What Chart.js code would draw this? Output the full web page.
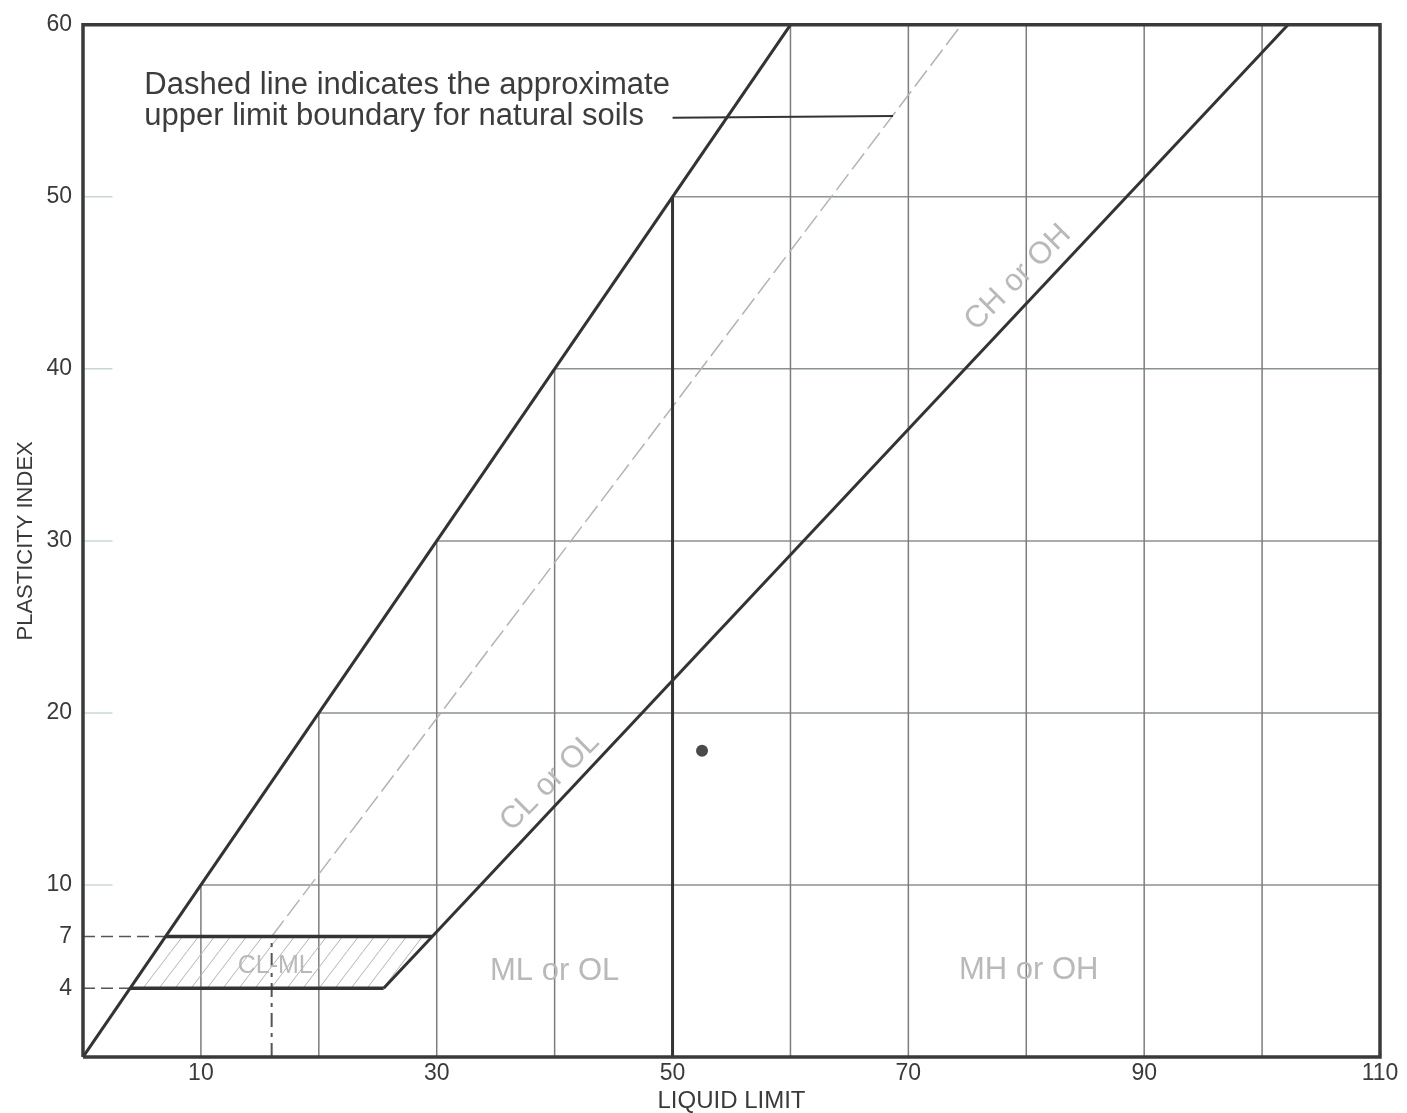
<!DOCTYPE html>
<html><head><meta charset="utf-8">
<script src="https://cdn.jsdelivr.net/npm/chart.js@4.4.1/dist/chart.umd.min.js"></script>
<style>html,body{margin:0;padding:0;background:#fff;}#wrap{width:1407px;height:1113px;}</style>
</head><body><div id="wrap"><canvas id="c" width="1407" height="1113"></canvas></div>
<script>
// ---------- data ----------
const xTickValues = [10, 30, 50, 70, 90, 110];
const yTickValues = [4, 7, 10, 20, 30, 40, 50, 60];
const xAxisTitle = 'LIQUID LIMIT';
const yAxisTitle = 'PLASTICITY INDEX';

const frameLine      = [[0,0],[110,0],[110,60],[0,60],[0,0]];
const upperLimitLine = [[0,0],[60,60]];          // PI = LL
const aLine          = [[25.5,4],[102.2,60]];    // CL/ML boundary
const clmlTop        = [[7,7],[29.6,7]];
const clmlBottom     = [[4,4],[25.5,4]];
const clmlZone       = [[4,4],[25.5,4],[29.6,7],[7,7],[4,4]];
const ll50Line       = [[50,0],[50,50]];
const uLineVertical  = [[16,0],[16,7]];
const uLineDiagonal  = [[16,7],[74.5,60]];
const dash7          = [[0,7],[7,7]];
const dash4          = [[0,4],[4,4]];
const leaderLine     = [[50,54.6],[68.7,54.7]];
const gridVX    = [10, 20, 30, 40, 60, 70, 80, 90, 100];
const gridVTop  = [10, 20, 30, 40, 60, 60, 60, 60, 60];
const gridHY    = [10, 20, 30, 40, 50];
const gridHFrom = [10, 20, 30, 40, 50];
const leftTickY = [10, 20, 30, 40, 50];
const samplePoint = [[52.5, 17.8]];

const regionText = ['ML or OL', 'MH or OH', 'CL-ML', 'CL or OL', 'CH or OH'];
const noteLines  = ['Dashed line indicates the approximate', 'upper limit boundary for natural soils'];

// ---------- placement / style (kept apart from the data) ----------
const FONT = "'Liberation Sans', Arial, sans-serif";
const regionPos = [
  {x:40.0, y:4.95, rot:0,   size:31},
  {x:80.2, y:5.05, rot:0,   size:31},
  {x:16.3, y:5.3,  rot:0,   size:25},
  {x:39.6, y:16.0, rot:-45, size:31},
  {x:79.3, y:45.3, rot:-45, size:31}
];
const notePos = [{x:5.2, y:56.0}, {x:5.2, y:54.2}];

const pts = a => a.map(p => ({x:p[0], y:p[1]}));

function hatchPattern(){
  const w = 16, h = 21;
  const c = document.createElement('canvas'); c.width = w; c.height = h;
  const g = c.getContext('2d');
  g.strokeStyle = '#b4b4b4'; g.lineWidth = 1;
  g.beginPath();
  g.moveTo(0,h); g.lineTo(w,0);
  g.moveTo(-w,h); g.lineTo(0,0);
  g.moveTo(w,h); g.lineTo(2*w,0);
  g.stroke();
  return g.createPattern(c, 'repeat');
}

const LINE = (data, color, width, order, extra) => Object.assign({
  type:'line', data: pts(data), showLine:true, borderColor:color, borderWidth:width,
  pointRadius:0, fill:false, tension:0, order:order
}, extra || {});

const datasets = [];
// grid
gridVX.forEach((x,i) => datasets.push(LINE([[x,0],[x,gridVTop[i]]], '#7d7d7d', 1.5, 20)));
gridHY.forEach((y,i) => datasets.push(LINE([[gridHFrom[i],y],[110,y]], '#8a9290', 1.5, 20)));
leftTickY.forEach(y => datasets.push(LINE([[0,y],[2.5,y]], '#c9d8cf', 1.5, 20)));
// hatched CL-ML zone
datasets.push(LINE(clmlZone, 'rgba(0,0,0,0)', 0, 15, {fill:'shape', backgroundColor: hatchPattern()}));
// dashed lines
datasets.push(LINE(uLineDiagonal, '#b3b3b3', 1.5, 12, {borderDash:[20,6]}));
datasets.push(LINE(uLineVertical, '#555555', 2, 12, {borderDash:[14,6,4,6]}));
datasets.push(LINE(dash7, '#555555', 1.5, 12, {borderDash:[12,6]}));
datasets.push(LINE(dash4, '#555555', 1.5, 12, {borderDash:[12,6]}));
// leader
datasets.push(LINE(leaderLine, '#333333', 2, 10));
// main boundaries
datasets.push(LINE(upperLimitLine, '#333333', 3, 5));
datasets.push(LINE(aLine, '#333333', 3, 5));
datasets.push(LINE(clmlTop, '#333333', 3.5, 5));
datasets.push(LINE(clmlBottom, '#333333', 3.5, 5));
datasets.push(LINE(ll50Line, '#333333', 3, 5));
datasets.push(LINE(frameLine, '#3a3a3a', 3.5, 3, {clip:false}));
// sample point
datasets.push({type:'scatter', data: pts(samplePoint), pointRadius:6, pointBackgroundColor:'#4a4a4a', pointBorderWidth:0, order:1});

const textPlugin = {
  id:'texts',
  afterDatasetsDraw(chart){
    const {ctx, scales:{x, y}} = chart;
    ctx.save();
    regionText.forEach((t,i) => {
      const p = regionPos[i];
      ctx.save();
      ctx.translate(x.getPixelForValue(p.x), y.getPixelForValue(p.y));
      ctx.rotate(p.rot*Math.PI/180);
      ctx.font = p.size + 'px ' + FONT;
      ctx.fillStyle = '#b9b9b9';
      ctx.textAlign = 'center'; ctx.textBaseline = 'middle';
      ctx.fillText(t, 0, 0);
      ctx.restore();
    });
    ctx.font = '31px ' + FONT;
    ctx.fillStyle = '#3c3c3c';
    ctx.textAlign = 'left'; ctx.textBaseline = 'alphabetic';
    noteLines.forEach((t,i) => {
      ctx.fillText(t, x.getPixelForValue(notePos[i].x), y.getPixelForValue(notePos[i].y));
    });
    ctx.restore();
  }
};

new Chart(document.getElementById('c'), {
  type:'scatter',
  data:{datasets},
  options:{
    responsive:false, animation:false, devicePixelRatio:1,
    layout:{padding:{top:24, right:27, left:0, bottom:0}},
    plugins:{legend:{display:false}, tooltip:{enabled:false}},
    scales:{
      x:{
        type:'linear', min:0, max:110,
        grid:{display:false, drawTicks:false}, border:{display:false},
        afterBuildTicks: s => { s.ticks = xTickValues.map(v => ({value:v})); },
        afterFit: s => { s.height = 56; },
        ticks:{autoSkip:false, maxRotation:0, color:'#3a3a3a', padding:3, font:{family:FONT, size:23}},
        title:{display:true, text:xAxisTitle, color:'#3a3a3a', padding:{top:0,bottom:0}, font:{family:FONT, size:24, lineHeight:1}}
      },
      y:{
        type:'linear', min:0, max:60,
        grid:{display:false, drawTicks:false}, border:{display:false},
        afterBuildTicks: s => { s.ticks = yTickValues.map(v => ({value:v})); },
        afterFit: s => { s.width = 83; },
        ticks:{autoSkip:false, color:'#3a3a3a', padding:11, font:{family:FONT, size:23}},
        title:{display:true, text:yAxisTitle, color:'#3a3a3a', padding:{top:15,bottom:0}, font:{family:FONT, size:22, lineHeight:1}}
      }
    }
  },
  plugins:[textPlugin]
});
</script></body></html>
